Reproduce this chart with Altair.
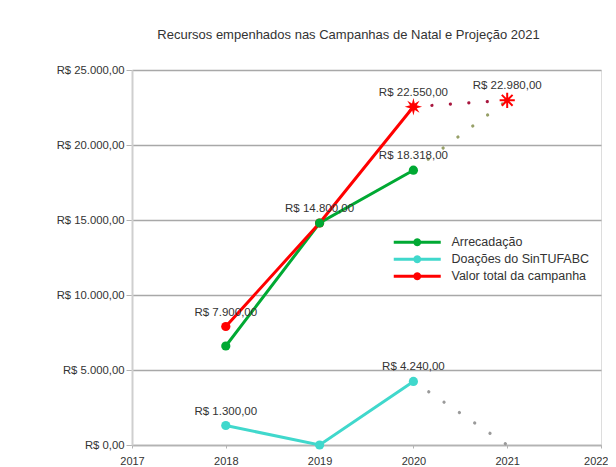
import math
import altair as alt
import pandas as pd

# ---------------- data ----------------
years = [2018, 2019, 2020]
series_names = ["Arrecadação", "Doações do SinTUFABC", "Valor total da campanha"]
arrecadacao = [6600, 14800, 18318]
doacoes = [1300, 0, 4240]
valor_total = [7900, 14800, 22550]

proj_years = [2020, 2021]
proj_arrecadacao = [18318, 22980]
proj_doacoes = [4240, 0]
proj_valor_total = [22550, 22980]

label_years = [2018, 2019, 2020, 2020, 2021, 2018, 2020]
label_values = [7900, 14800, 18318, 22550, 22980, 1300, 4240]

x_ticks = [2017, 2018, 2019, 2020, 2021, 2022]
y_ticks = [0, 5000, 10000, 15000, 20000, 25000]

title_text = "Recursos empenhados nas Campanhas de Natal e Projeção 2021"
colors = ["#00a933", "#40d8cc", "#ff0000"]

# ---------------- tables ----------------
def brl(v):
    s = f"{v:,.2f}".replace(",", "X").replace(".", ",").replace("X", ".")
    return "R$ " + s

main_rows = []
for name, vals in zip(series_names, [arrecadacao, doacoes, valor_total]):
    for yr, v in zip(years, vals):
        main_rows.append({"year": yr, "value": v, "series": name})
main_df = pd.DataFrame(main_rows)

proj_rows = []
for name, vals in zip(series_names, [proj_arrecadacao, proj_doacoes, proj_valor_total]):
    for yr, v in zip(proj_years, vals):
        proj_rows.append({"year": yr, "value": v, "series": name})
proj_df = pd.DataFrame(proj_rows)

label_df = pd.DataFrame({"year": label_years, "value": label_values,
                         "label": [brl(v) for v in label_values]})

star_df = pd.DataFrame({"year": [years[-1]], "value": [valor_total[-1]]})
ast_df = pd.DataFrame({"year": [proj_years[-1]], "value": [proj_valor_total[-1]]})

# ---------------- scales ----------------
FONT = "Liberation Sans"
xs = alt.Scale(domain=[2017, 2022], nice=False, zero=False)
ys = alt.Scale(domain=[0, 25000], nice=False)

X = alt.X("year:Q", scale=xs, title=None,
          axis=alt.Axis(values=x_ticks, format="d", grid=False, domainColor="#b3b3b3",
                        domainWidth=1.5, tickColor="#b3b3b3", tickSize=3, labelPadding=7,
                        labelFontSize=11, labelColor="#333333", labelFont=FONT,
                        labelFlush=False,
                        labelAlign={"condition": {"test": "datum.value == 2022", "value": "right"},
                                    "value": "center"},
                        labelOffset={"condition": {"test": "datum.value == 2022", "value": 7},
                                     "value": 0}))
Y = alt.Y("value:Q", scale=ys, title=None,
          axis=alt.Axis(values=y_ticks, grid=True, gridColor="#a8a8a8", gridWidth=1.3,
                        domainColor="#cfcfcf", domainWidth=2, tickColor="#b3b3b3",
                        tickSize=6, labelPadding=2, labelFontSize=11.3, labelColor="#333333",
                        labelFont=FONT,
                        labelExpr="'R$ ' + replace(format(datum.value, ','), ',', '.') + ',00'"))

cscale = alt.Scale(domain=series_names, range=colors)

line_layers = []
for i, (name, col) in enumerate(zip(series_names, colors)):
    enc = dict(x="year:Q", y="value:Q", order=alt.Order("year:Q"))
    if i == 0:
        enc = dict(x=X, y=Y, order=alt.Order("year:Q"))
    line_layers.append(
        alt.Chart(main_df).transform_filter(alt.datum.series == name)
        .mark_line(strokeWidth=3, color=col).encode(**enc))

def trend(name, col):
    return alt.Chart(proj_df).transform_filter(alt.datum.series == name).mark_line(
        strokeWidth=3.2, strokeCap="round", strokeDash=[0.1, 18.4], color=col
    ).encode(x="year:Q", y="value:Q")

t1 = trend(series_names[0], "#97a068")
t2 = trend(series_names[1], "#9a9a9a")
t3 = trend(series_names[2], "#a8163e")

# legend symbol: filled bar + filled circle (polygon); unit = 5 px (size 100)
circ = []
for i in range(20):
    a = 2 * math.pi * i / 20
    circ.append(f"{0.8*math.cos(a):.3f},{0.8*math.sin(a):.3f}")
legend_path = "M-4.7,-0.3L4.7,-0.3L4.7,0.3L-4.7,0.3Z M" + "L".join(circ) + "Z"

leg = alt.Legend(title=None, orient="none", legendX=279, legendY=166,
                 symbolType=legend_path, symbolSize=100, symbolStrokeWidth=0,
                 symbolOpacity=1,
                 labelFontSize=12.5, labelColor="#333333", labelFont=FONT,
                 labelOffset=28, rowPadding=4, padding=0)

points = alt.Chart(main_df).transform_filter(
    "datum.series != 'Valor total da campanha' || datum.year < 2020"
).mark_point(filled=True, size=85, opacity=1).encode(
    x="year:Q", y="value:Q",
    color=alt.Color("series:N", scale=cscale, legend=leg),
    order=alt.Order("series:N", sort="descending"))

# custom shapes
star_pts = []
for i in range(16):
    r = 1.0 if i % 2 == 0 else 0.42
    a = math.pi * i / 8
    star_pts.append(f"{r*math.cos(a):.3f},{r*math.sin(a):.3f}")
star_path = "M" + "L".join(star_pts) + "Z"
ast_path = "M-1,0L1,0M0,-1L0,1M-0.71,-0.71L0.71,0.71M-0.71,0.71L0.71,-0.71"

star = alt.Chart(star_df).mark_point(shape=star_path, size=300, filled=True,
                                     color="#ff0000", opacity=1).encode(x="year:Q", y="value:Q")
ast = alt.Chart(ast_df).mark_point(shape=ast_path, size=230, filled=False, strokeWidth=2,
                                   color="#ff0000", opacity=1).encode(x="year:Q", y="value:Q")

labels = alt.Chart(label_df).mark_text(dy=-14, fontSize=11.5, font=FONT,
                                       color="#333333").encode(
    x="year:Q", y="value:Q", text="label:N")

chart = alt.layer(*line_layers, t1, t2, t3, points, star, ast, labels).properties(
    width=469, height=375,
    padding={"left": 124, "top": 62, "right": 7, "bottom": 22},
    autosize=alt.AutoSizeParams(type="none"),
    title=alt.TitleParams(title_text, fontSize=13, font=FONT, fontWeight="normal",
                          color="#333333", anchor="middle", dx=-18, offset=22),
).configure_view(stroke=None).configure(background="white")

chart.save("out.html", embed_options={"renderer": "svg", "actions": False})
